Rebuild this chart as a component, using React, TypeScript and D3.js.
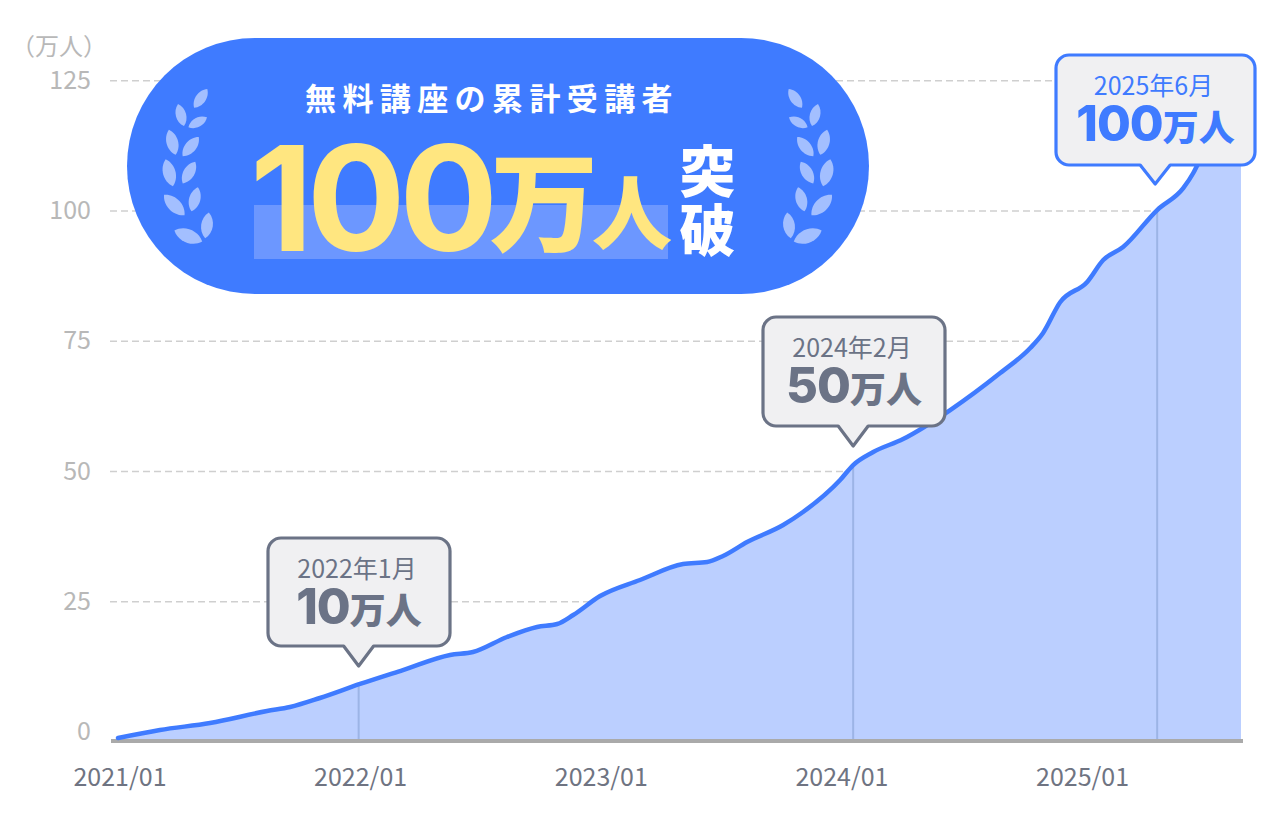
import { useEffect, useRef } from 'react';
import * as d3 from 'd3';

// months since 2021/01 and cumulative students (万人)
const months = [0, 2.09, 4.59, 7.43, 8.58, 10.07, 12.07, 14.21, 16.56, 17.7, 19.4, 20.9, 21.9, 22.7, 24.04, 26.03, 28.18, 29.38, 30.17, 31.37, 33.17, 34.16, 36.01, 36.66, 37.66, 39.15, 41.5, 43.99, 45.49, 46.13, 46.98, 48.33, 49.13, 50.12, 51.82, 53.12, 53.62, 53.87, 56];
const students = [-1.25, 0.29, 1.63, 3.93, 4.7, 6.43, 9.12, 11.8, 14.7, 15.26, 18.14, 20.06, 20.63, 22.36, 26.0, 29.08, 32.15, 32.53, 33.69, 36.37, 39.64, 42.13, 48.27, 51.15, 53.65, 56.14, 61.7, 68.8, 73.6, 76.5, 82.4, 86.3, 90.5, 93, 100.1, 104.3, 107.2, 109.1, 122];

const yTicks = [0, 25, 50, 75, 100, 125];
const xTickMonths = [0, 12, 24, 36, 48];
const xTickLabels = ['2021/01', '2022/01', '2023/01', '2024/01', '2025/01'];
const yUnit = '（万人）';
const baselineValue = -1.82;

const markerMonths = [12, 36.66, 51.82];
const markerValues = [9.12, 51.15, 100.1];
const markerDates = ['2022年1月', '2024年2月', '2025年6月'];
const markerNumbers = ['10', '50', '100'];

const badgeTitle = '無料講座の累計受講者';
const badgeNumber = '100';

const BLUE = '#3f7bff';
const GREY = '#6b7386';
const FONT = '"Noto Sans CJK JP", "Noto Sans", sans-serif';
const NUM_FONT = 'Inter, "Noto Sans CJK JP", sans-serif';

// callout boxes: left, top, right, bottom, tip y
const boxes = [
  { x0: 268, y0: 538, x1: 450, y1: 646, tip: 666, color: GREY },
  { x0: 763, y0: 317, x1: 945, y1: 426, tip: 446, color: GREY },
  { x0: 1056, y0: 55, x1: 1255, y1: 165, tip: 184, color: BLUE },
];

// left laurel, cx cy, tilt from vertical, length. The right one is a mirror
const leaves = [
  [200.7, 98.3, 35, 23], [181, 115, -15, 23], [197.7, 122.3, 62, 21],
  [172.3, 142.3, -15, 26], [190.7, 146.7, 40, 25], [169.3, 172.7, -15, 28],
  [189, 172.7, 30, 25], [174.3, 205, -45, 29], [194.7, 199.3, 15, 25],
  [188.3, 236, -68, 30], [207, 225.3, 8, 26],
];

export default function App() {
  const svgRef = useRef<SVGSVGElement>(null);

  useEffect(() => {
    if (!svgRef.current) return;
    const svg = d3.select(svgRef.current);
    svg.selectAll('*').remove();
    svg.attr('font-family', FONT);

    const xScale = d3.scaleLinear().domain([0, 56]).range([118, 1241]);
    const yScale = d3.scaleLinear().domain([0, 125]).range([731.5, 80.3]);
    const points = months.map((m, i) => [m, students[i]] as [number, number]);
    const base = yScale(baselineValue);

    // y axis labels and dashed grid
    const yAxis = svg.append('g')
      .attr('transform', 'translate(110,0)')
      .call(d3.axisLeft(yScale).tickValues(yTicks).tickSize(-1130).tickPadding(19));
    yAxis.select('.domain').remove();
    yAxis.attr('font-family', FONT).attr('font-size', 25);
    yAxis.selectAll('text').attr('fill', '#b8b8b8');
    yAxis.selectAll('line')
      .attr('stroke', '#cfcfcf')
      .attr('stroke-width', 1.5)
      .attr('stroke-dasharray', '7,4')
      .attr('opacity', (d: any) => (d === 0 ? 0 : 1));

    svg.append('text')
      .attr('x', 59).attr('y', 55)
      .attr('text-anchor', 'middle')
      .attr('font-size', 24)
      .attr('fill', '#b8b8b8')
      .text(yUnit);

    // area + droplines
    const area = d3.area<[number, number]>()
      .x(d => xScale(d[0]))
      .y0(base)
      .y1(d => yScale(d[1]))
      .curve(d3.curveMonotoneX);
    svg.append('path').datum(points).attr('fill', '#bbcfff').attr('d', area);

    markerMonths.forEach((m, i) => {
      svg.append('line')
        .attr('x1', xScale(m)).attr('x2', xScale(m))
        .attr('y1', yScale(markerValues[i])).attr('y2', base)
        .attr('stroke', '#9cb4e6')
        .attr('stroke-width', 2);
    });

    // x axis
    const xAxis = svg.append('g')
      .attr('transform', `translate(1.5,${base})`)
      .call(d3.axisBottom(xScale)
        .tickValues(xTickMonths)
        .tickSize(0)
        .tickPadding(27)
        .tickFormat((_, i) => xTickLabels[i]));
    xAxis.select('.domain').remove();
    xAxis.attr('font-family', FONT).attr('font-size', 25);
    xAxis.selectAll('text').attr('fill', '#6f7482');

    svg.append('line')
      .attr('x1', 111).attr('x2', 1243)
      .attr('y1', base).attr('y2', base)
      .attr('stroke', '#aaaaaa')
      .attr('stroke-width', 4);

    // curve
    const line = d3.line<[number, number]>()
      .x(d => xScale(d[0]))
      .y(d => yScale(d[1]))
      .curve(d3.curveMonotoneX);
    svg.append('path').datum(points)
      .attr('fill', 'none')
      .attr('stroke', BLUE)
      .attr('stroke-width', 4.5)
      .attr('stroke-linecap', 'round')
      .attr('d', line);

    // callouts
    boxes.forEach((b, i) => {
      const tx = xScale(markerMonths[i]) - (i === 2 ? 2 : 0);
      const r = 13;
      const p = d3.path();
      p.moveTo(b.x0 + r, b.y0);
      p.arcTo(b.x1, b.y0, b.x1, b.y0 + r, r);
      p.arcTo(b.x1, b.y1, b.x1 - r, b.y1, r);
      p.lineTo(tx + 15, b.y1);
      p.lineTo(tx, b.tip);
      p.lineTo(tx - 15, b.y1);
      p.arcTo(b.x0, b.y1, b.x0, b.y1 - r, r);
      p.arcTo(b.x0, b.y0, b.x0 + r, b.y0, r);
      p.closePath();
      svg.append('path')
        .attr('d', p.toString())
        .attr('fill', '#f0f0f2')
        .attr('stroke', b.color)
        .attr('stroke-width', 3.2)
        .attr('stroke-linejoin', 'round');

      const cx = (b.x0 + b.x1) / 2 - 2;
      const label = svg.append('text')
        .attr('text-anchor', 'middle')
        .attr('fill', b.color);
      label.append('tspan')
        .attr('x', cx).attr('y', b.y0 + 40)
        .attr('font-size', 25)
        .text(markerDates[i]);
      label.append('tspan')
        .attr('x', cx + 2).attr('y', b.y0 + 86)
        .attr('font-family', NUM_FONT)
        .attr('font-size', 49)
        .attr('font-weight', 800)
        .attr('letter-spacing', -1)
        .text(markerNumbers[i]);
      label.append('tspan')
        .attr('font-size', 36)
        .attr('font-weight', 900)
        .text('万人');
    });

    // badge
    const badge = svg.append('g');
    badge.append('rect')
      .attr('x', 127).attr('y', 38)
      .attr('width', 742).attr('height', 256)
      .attr('rx', 128)
      .attr('fill', BLUE);
    badge.append('rect')
      .attr('x', 254).attr('y', 205)
      .attr('width', 414).attr('height', 54)
      .attr('fill', '#6c97ff');

    const leafPath = (len: number) => {
      const w = len * 0.3;
      return `M0,${-len / 2}C${w},${-len / 4} ${w},${len / 4} 0,${len / 2}C${-w},${len / 4} ${-w},${-len / 4} 0,${-len / 2}Z`;
    };
    [false, true].forEach(mirror => {
      const g = badge.append('g')
        .attr('transform', mirror ? 'translate(996,0) scale(-1,1)' : null);
      leaves.forEach(([cx, cy, a, len]) => {
        g.append('path')
          .attr('d', leafPath(len))
          .attr('transform', `translate(${cx},${cy}) rotate(${a})`)
          .attr('fill', '#a3bfff');
      });
    });

    badge.append('text')
      .attr('x', 305).attr('y', 110)
      .attr('font-size', 31)
      .attr('font-weight', 700)
      .attr('letter-spacing', 6.4)
      .attr('fill', '#fff')
      .text(badgeTitle);

    const bigText = badge.append('text')
      .attr('font-weight', 900)
      .attr('fill', '#ffe680');
    bigText.append('tspan')
      .attr('x', 250).attr('y', 251)
      .attr('font-family', NUM_FONT)
      .attr('font-size', 146)
      .attr('font-weight', 700)
      .attr('letter-spacing', -6)
      .text(badgeNumber);
    bigText.append('tspan')
      .attr('x', 490).attr('y', 243)
      .attr('font-size', 108)
      .text('万');
    bigText.append('tspan')
      .attr('x', 592).attr('y', 243)
      .attr('font-size', 80)
      .text('人');

    const breakText = badge.append('text')
      .attr('text-anchor', 'middle')
      .attr('font-size', 56)
      .attr('font-weight', 900)
      .attr('fill', '#fff');
    ['突', '破'].forEach((ch, i) => {
      breakText.append('tspan')
        .attr('x', 707.5).attr('y', 192 + i * 59)
        .text(ch);
    });
  }, []);

  return (
    <svg
      ref={svgRef}
      width={1280}
      height={834}
      style={{ position: 'absolute', left: 0, top: 0, background: '#fff' }}
    />
  );
}
